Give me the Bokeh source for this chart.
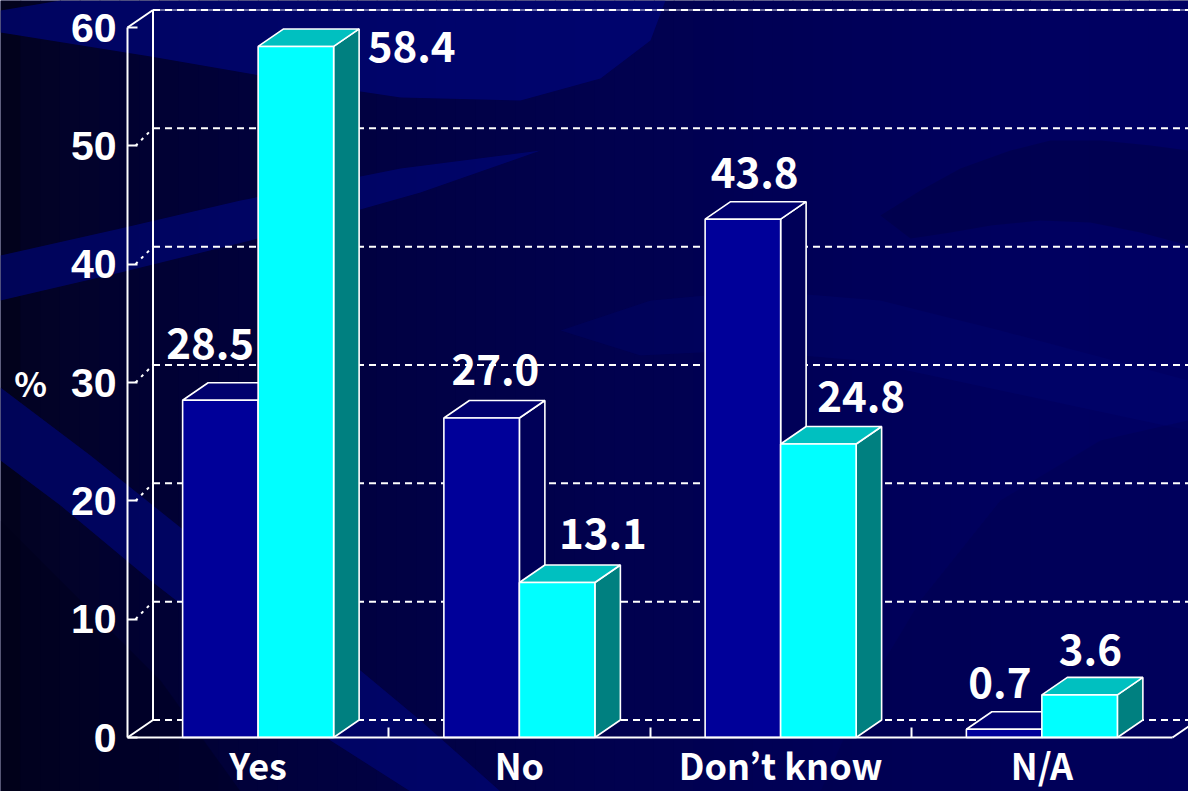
from bokeh.plotting import figure
from bokeh.models import ColumnDataSource, FixedTicker, Range1d, LinearAxis
from bokeh.core.properties import value
from bokeh.embed import file_html
from bokeh.resources import INLINE

# ---------------- data ----------------
categories = ["Yes", "No", "Don\u2019t know", "N/A"]
series_a = [28.5, 27.0, 43.8, 0.7]     # dark blue bars
series_b = [58.4, 13.1, 24.8, 3.6]     # cyan bars
y_ticks = [0, 10, 20, 30, 40, 50, 60]

# ---------------- geometry / style ----------------
W, H = 1188, 791
X0PX, Y0PX = 127.0, 737.0          # front origin on screen
PX = 261.25                        # pixels per category
PY = 710.0 / 60.0                  # pixels per percent
DXP, DYP = 25.5, 17.5              # 3-D depth in pixels
DX, DY = DXP / PX, DYP / PY
BW = 75.5 / PX                     # bar width in category units
FONT = value("Noto Sans CJK JP")
WHITE = "#ffffff"

def fx(px):
    return (px - X0PX) / PX

def fy(py):
    return (Y0PX - py) / PY

p = figure(width=W, height=H, output_backend="svg", toolbar_location=None,
           x_range=Range1d(fx(0), fx(W)), y_range=Range1d(fy(H), fy(0)),
           x_axis_location=None, y_axis_location=None,
           min_border=0, min_border_left=0, min_border_right=0,
           min_border_top=0, min_border_bottom=0)
p.outline_line_color = None
p.background_fill_color = "#000040"
p.border_fill_color = "#000040"
p.xgrid.visible = False
p.ygrid.visible = False

# ---------------- background (decorative) ----------------
NS = 60
def lerp(c1, c2, t):
    return "#%02x%02x%02x" % tuple(int(round(a + (b - a) * t)) for a, b in zip(c1, c2))
left_c, right_c = (2, 2, 28), (0, 0, 100)
for i in range(NS):
    t = i / (NS - 1)
    x0 = W * i / NS
    x1 = W * (i + 1) / NS + 1
    p.quad(left=fx(x0), right=fx(x1), bottom=fy(H), top=fy(0),
           fill_color=lerp(left_c, right_c, min(1.0, t ** 0.55)), line_color=None)

bands = [
    # (points in px, color, alpha)
    ([(0, 10), (60, 0), (665, 0), (650, 40), (600, 78), (520, 100), (400, 97),
      (300, 82), (150, 56), (0, 32)], "#00067a", 0.7),
    ([(0, 255), (120, 228), (240, 200), (400, 168), (540, 150), (420, 192),
      (250, 240), (120, 272), (0, 300)], "#00067a", 0.65),
    ([(0, 387), (90, 455), (180, 527), (300, 620), (420, 720), (500, 791),
      (410, 791), (330, 740), (240, 650), (150, 580), (60, 505), (0, 460)], "#00067a", 0.65),
    ([(0, 520), (80, 600), (160, 680), (240, 791), (0, 791)], "#000018", 0.35),
    ([(880, 215), (920, 190), (960, 168), (1010, 150), (1050, 140), (1100, 140),
      (1150, 145), (1188, 150), (1188, 245), (1140, 232), (1090, 222), (1040, 220),
      (990, 225), (950, 232), (910, 238)], "#000040", 0.45),
    ([(560, 330), (650, 300), (760, 290), (880, 300), (1000, 330), (1188, 380),
      (1188, 430), (1000, 390), (860, 360), (740, 350), (640, 355)], "#00067a", 0.25),
    ([(820, 791), (860, 700), (920, 600), (1000, 500), (1100, 440), (1188, 420),
      (1188, 791)], "#000040", 0.22),
]
for pts, col, a in bands:
    p.patch([fx(x) for x, _ in pts], [fy(y) for _, y in pts],
            fill_color=col, fill_alpha=a, line_color=None)

# ---------------- 3-D frame: back wall grid ----------------
x_end = fx(W)
grid_vals = [v for v in y_ticks if v > 0]
p.segment(x0=[DX] * len(grid_vals), y0=[v + DY for v in grid_vals],
          x1=[x_end] * len(grid_vals), y1=[v + DY for v in grid_vals],
          line_color=WHITE, line_width=2, line_dash="7 5")
p.segment(x0=[DX], y0=[max(y_ticks) + DY], x1=[x_end], y1=[max(y_ticks) + DY],
          line_color=WHITE, line_width=1, line_alpha=0.8)
# back floor line
p.segment(x0=[DX], y0=[DY], x1=[len(categories) + DX], y1=[DY],
          line_color=WHITE, line_width=2, line_dash="7 5")
# back wall vertical edge
p.segment(x0=[DX], y0=[DY], x1=[DX], y1=[max(y_ticks) + DY],
          line_color=WHITE, line_width=2)
# solid depth connectors
p.segment(x0=[0, 0, len(categories)], y0=[0, max(y_ticks), 0],
          x1=[DX, DX, len(categories) + DX], y1=[DY, max(y_ticks) + DY, DY],
          line_color=WHITE, line_width=2)
# dashed connectors from axis ticks
conn = grid_vals[:-1]
p.segment(x0=[8 / PX] * len(conn), y0=conn,
          x1=[DX] * len(conn), y1=[v + DY for v in conn],
          line_color=WHITE, line_width=2, line_dash="3 5")

# ---------------- bars ----------------
def bar_faces(left_edges, vals):
    fl, fr, ft = [], [], []
    tx, ty, sx, sy = [], [], [], []
    for x0, v in zip(left_edges, vals):
        x1 = x0 + BW
        fl.append(x0); fr.append(x1); ft.append(v)
        tx.append([x0, x1, x1 + DX, x0 + DX]); ty.append([v, v, v + DY, v + DY])
        sx.append([x1, x1 + DX, x1 + DX, x1]); sy.append([0, DY, v + DY, v])
    return fl, fr, ft, tx, ty, sx, sy

centers = [i + 0.5 for i in range(len(categories))]
specs = [
    ([c - BW for c in centers], series_a, "#000099", "#00006e", "#000058"),
    (list(centers), series_b, "#00ffff", "#00c0c0", "#008080"),
]
for lefts, vals, c_front, c_top, c_side in specs:
    fl, fr, ft, tx, ty, sx, sy = bar_faces(lefts, vals)
    p.patches(sx, sy, fill_color=c_side, line_color=WHITE, line_width=1.6)
    p.patches(tx, ty, fill_color=c_top, line_color=WHITE, line_width=1.6)
    p.quad(left=fl, right=fr, bottom=[0] * len(fl), top=ft,
           fill_color=c_front, line_color=WHITE, line_width=1.6)

# ---------------- value labels ----------------
lab_dx_a = [-23, 1, -1, -17]
lab_dy_a = [-39, -31, -29, -29]
lab_dx_b = [103, 33, 30, -2]
lab_dy_b = [18, -31, -30, -28]
lx, ly, lt, ox, oy = [], [], [], [], []
for lefts, vals, dxs, dys in [([c - BW for c in centers], series_a, lab_dx_a, lab_dy_a),
                              (list(centers), series_b, lab_dx_b, lab_dy_b)]:
    for x0, v, dx, dy in zip(lefts, vals, dxs, dys):
        lx.append(x0 + BW / 2 + DX / 2)
        ly.append(v + DY)
        lt.append(f"{v:.1f}")
        ox.append(dx)
        oy.append(dy)
src = ColumnDataSource(dict(x=lx, y=ly, text=lt, ox=ox, oy=oy))
p.text(x="x", y="y", text="text", x_offset="ox", y_offset="oy", source=src,
       text_font=FONT, text_font_style="bold", text_font_size="42px",
       text_color=WHITE, text_align="center", text_baseline="alphabetic")

# ---------------- axes ----------------
yaxis = LinearAxis(fixed_location=0, bounds=(0, max(y_ticks)),
                   ticker=FixedTicker(ticks=y_ticks))
yaxis.axis_line_color = WHITE
yaxis.axis_line_width = 2
yaxis.major_tick_line_color = WHITE
yaxis.major_tick_line_width = 2
yaxis.major_tick_in = 10
yaxis.major_tick_out = 0
yaxis.minor_tick_line_color = None
yaxis.major_label_text_color = WHITE
yaxis.major_label_text_font = "Liberation Sans"
yaxis.major_label_text_font_style = "bold"
yaxis.major_label_text_font_size = "41px"
yaxis.major_label_standoff = 11
yaxis.axis_label = "%"
yaxis.axis_label_orientation = "horizontal"
yaxis.axis_label_text_color = WHITE
yaxis.axis_label_text_font = "Noto Sans CJK JP"
yaxis.axis_label_text_font_style = "bold"
yaxis.axis_label_text_font_size = "34px"
yaxis.axis_label_standoff = 21
p.add_layout(yaxis, "left")

xaxis = LinearAxis(fixed_location=0, bounds=(0, len(categories)),
                   ticker=FixedTicker(ticks=centers, minor_ticks=list(range(1, len(categories)))))
xaxis.major_label_overrides = {c: name for c, name in zip(centers, categories)}
xaxis.axis_line_color = WHITE
xaxis.axis_line_width = 2
xaxis.major_tick_line_color = None
xaxis.major_tick_in = 0
xaxis.major_tick_out = 0
xaxis.minor_tick_line_color = WHITE
xaxis.minor_tick_line_width = 2
xaxis.minor_tick_in = 10
xaxis.minor_tick_out = 0
xaxis.major_label_text_color = WHITE
xaxis.major_label_text_font = "Noto Sans CJK JP"
xaxis.major_label_text_font_style = "bold"
xaxis.major_label_text_font_size = "36px"
xaxis.major_label_standoff = 0
p.add_layout(xaxis, "below")

open("out.html", "w").write(file_html(p, INLINE))
